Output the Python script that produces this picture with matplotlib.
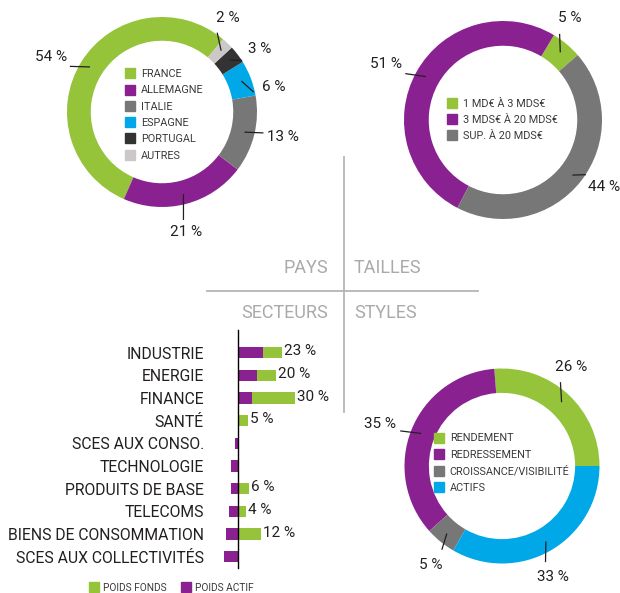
import numpy as np
import matplotlib.pyplot as plt
from matplotlib.lines import Line2D

plt.rcParams['font.family'] = ['Roboto', 'DejaVu Sans']

W, H = 620, 593

GREEN = '#95c43b'
PURPLE = '#8a2190'
GREY = '#777777'
BLUE = '#00a8e8'
DARK = '#333333'
LIGHT = '#cdc8c8'
TXT = '#231f20'

# --- données ---
pays_labels = ['FRANCE', 'ALLEMAGNE', 'ITALIE', 'ESPAGNE', 'PORTUGAL', 'AUTRES']
pays_values = [54, 21, 13, 6, 3, 2]

tailles_labels = ['1 MD€ À 3 MDS€', '3 MDS€ À 20 MDS€', 'SUP. À 20 MDS€']
tailles_values = [5, 51, 44]

styles_labels = ['RENDEMENT', 'REDRESSEMENT', 'CROISSANCE/VISIBILITÉ', 'ACTIFS']
styles_values = [26, 35, 5, 33]

secteurs = ['INDUSTRIE', 'ENERGIE', 'FINANCE', 'SANTÉ', 'SCES AUX CONSO.',
            'TECHNOLOGIE', 'PRODUITS DE BASE', 'TELECOMS',
            'BIENS DE CONSOMMATION', 'SCES AUX COLLECTIVITÉS']
poids_fonds = [23, 20, 30, 5, 0, 0, 6, 4, 12, 0]
poids_actif = [13, 10, 7.5, 0, -1.5, -3.5, -3.5, -4.5, -6.5, -7.5]

# positions des étiquettes (angle en degrés, distance en rayons)
pays_lab = [(153.5, 1.30), (281.3, 1.29), (348.3, 1.30), (12.6, 1.20), (33, 1.22), (54.9, 1.21)]
tailles_lab = [(56.5, 1.23), (154.5, 1.31), (326.4, 1.22)]
styles_lab = [(54.9, 1.24), (160.9, 1.32), (234.2, 1.25), (294.5, 1.25)]

fig = plt.figure(figsize=(W / 100, H / 100), dpi=100)


def donut(cx, cy, r, values, colors, startangle, lab_pos, labels, leg_shift=(0, 0)):
    k = 1.5
    side = 2 * r * k
    ax = fig.add_axes([(cx - side / 2) / W, (H - cy - side / 2) / H, side / W, side / H])
    wedges, _ = ax.pie(values, colors=colors, startangle=startangle, counterclock=True,
                       radius=1, wedgeprops=dict(width=0.25, linewidth=0))
    ax.set_xlim(-k, k)
    ax.set_ylim(-k, k)
    for w, v, (ang, dist) in zip(wedges, values, lab_pos):
        mid = np.deg2rad((w.theta1 + w.theta2) / 2)
        a = np.deg2rad(ang)
        gap = 0.2 * abs(np.cos(a)) + 0.1 * abs(np.sin(a))
        ax.plot([0.9 * np.cos(mid), (dist - gap) * np.cos(a)],
                [0.9 * np.sin(mid), (dist - gap) * np.sin(a)], color=TXT, lw=0.9)
        ax.text(dist * np.cos(a), dist * np.sin(a), f'{v} %', ha='center', va='center',
                fontsize=11, color=TXT)
    handles = [Line2D([], [], ls='', marker='s', ms=6.5, mfc=c, mec=c) for c in colors]
    ax.legend(handles, labels, loc='center', bbox_to_anchor=(0.5 + leg_shift[0], 0.5 + leg_shift[1]),
              frameon=False, fontsize=7.8, labelspacing=0.58, handlelength=0.8,
              handletextpad=0.6, labelcolor='#3a3a3a')
    return ax


donut(162, 112, 95, pays_values, [GREEN, PURPLE, GREY, BLUE, DARK, LIGHT], 50, pays_lab,
      pays_labels, leg_shift=(0.01, -0.01))
donut(503, 120, 99, tailles_values, [GREEN, PURPLE, GREY], 41, tailles_lab, tailles_labels)
donut(502, 466, 97.5, styles_values, [GREEN, PURPLE, GREY, BLUE], 0, styles_lab, styles_labels,
      leg_shift=(0, 0.01))

# --- secteurs (barres) ---
x0, scale = 238, 1.9
left_px, right_px, top_px, bot_px = 212, 335, 330, 568
axb = fig.add_axes([left_px / W, (H - bot_px) / H, (right_px - left_px) / W, (bot_px - top_px) / H])
y = np.arange(len(secteurs))
axb.barh(y, poids_fonds, height=0.5, color=GREEN)
axb.barh(y, poids_actif, height=0.5, color=PURPLE)
for i, v in enumerate(poids_fonds):
    if v > 0:
        axb.annotate(f'{v} %', (v, i), xytext=(1.5, 1), textcoords='offset points',
                     va='center', ha='left', fontsize=11, color=TXT)
axb.set_xlim((left_px - x0) / scale, (right_px - x0) / scale)
axb.set_ylim(9.5, -1.0)
axb.set_xticks([])
axb.set_yticks(y, secteurs)
axb.tick_params(axis='y', length=0, pad=24.5, labelsize=11.3, labelcolor=TXT)
for s in ['top', 'right', 'bottom']:
    axb.spines[s].set_visible(False)
axb.spines['left'].set_position(('data', 0))
axb.spines['left'].set_color('black')
axb.spines['left'].set_linewidth(1.0)
axb.patch.set_alpha(0)

leg_handles = [Line2D([], [], ls='', marker='s', ms=6.5, mfc=GREEN, mec=GREEN),
               Line2D([], [], ls='', marker='s', ms=6.5, mfc=PURPLE, mec=PURPLE)]
fig.legend(leg_handles, ['POIDS FONDS', 'POIDS ACTIF'], loc='center',
           bbox_to_anchor=(172 / W, 1 - 588 / H), ncol=2, frameon=False, fontsize=7.3,
           handlelength=0.8, handletextpad=0.5, columnspacing=1.5, labelcolor='#3a3a3a')

# --- séparateurs et titres ---
fig.add_artist(Line2D([344 / W, 344 / W], [1 - 157 / H, 1 - 412 / H], color='#b5b5b5', lw=1.3))
fig.add_artist(Line2D([207 / W, 478 / W], [1 - 291 / H, 1 - 291 / H], color='#b5b5b5', lw=1.3))
fig.text(328 / W, 1 - 268 / H, 'PAYS', ha='right', va='center', fontsize=13, color='#aaaaaa')
fig.text(354 / W, 1 - 268 / H, 'TAILLES', ha='left', va='center', fontsize=13, color='#aaaaaa')
fig.text(328 / W, 1 - 313 / H, 'SECTEURS', ha='right', va='center', fontsize=13, color='#aaaaaa')
fig.text(354 / W, 1 - 313 / H, 'STYLES', ha='left', va='center', fontsize=13, color='#aaaaaa')

fig.savefig('out.png', dpi=100)
